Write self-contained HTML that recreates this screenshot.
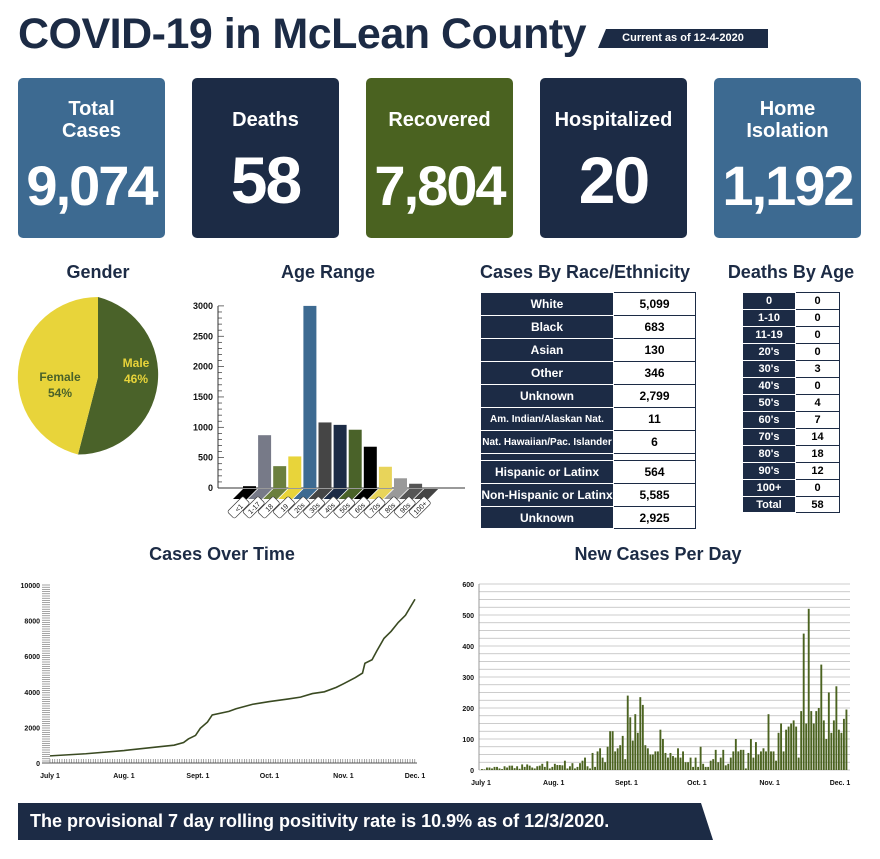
<!DOCTYPE html>
<html><head><meta charset="utf-8"><style>
body{margin:0;width:880px;height:859px;background:#fff;font-family:"Liberation Sans",sans-serif;position:relative;overflow:hidden}
.a{position:absolute}
.card{position:absolute;top:78px;width:147px;height:160px;border-radius:5px;color:#fff;text-align:center;font-weight:bold}
.card .l{position:absolute;left:0;right:0;font-size:20px;line-height:22px}
.card .n{position:absolute;left:0;right:0;top:78px;font-size:56px;letter-spacing:-2px;line-height:60px}
.h{position:absolute;font-weight:bold;font-size:18px;color:#1c2b45;text-align:center;white-space:nowrap}
table{border-collapse:collapse;position:absolute;font-size:12px;font-weight:bold}
td{border:1px solid #1c2b45;padding:0;text-align:center}
td.k{background:#1c2b45;color:#fff;border-color:#fff}
</style></head><body>
<div class="a" style="left:18px;top:10px;font-size:43px;font-weight:bold;color:#1c2b45;letter-spacing:-0.5px">COVID-19 in McLean County</div>
<div class="a" style="left:598px;top:29px;width:170px;height:19px;background:#1c2b45;clip-path:polygon(8px 0,100% 0,100% 100%,0 100%);color:#fff;font-size:11px;font-weight:bold;line-height:19px;text-align:center">Current as of 12-4-2020</div>

<div class="card" style="left:18px;background:#3d6a91"><div class="l" style="top:20px">Total<br>Cases</div><div class="n">9,074</div></div>
<div class="card" style="left:192px;background:#1c2b45"><div class="l" style="top:31px">Deaths</div><div class="n" style="font-size:66px;top:72px">58</div></div>
<div class="card" style="left:366px;background:#4a6220"><div class="l" style="top:31px">Recovered</div><div class="n">7,804</div></div>
<div class="card" style="left:540px;background:#1c2b45"><div class="l" style="top:31px">Hospitalized</div><div class="n" style="font-size:66px;top:72px">20</div></div>
<div class="card" style="left:714px;background:#3d6a91"><div class="l" style="top:20px">Home<br>Isolation</div><div class="n">1,192</div></div>

<div class="h" style="left:48px;width:100px;top:262px">Gender</div>
<div class="h" style="left:258px;width:140px;top:262px">Age Range</div>
<div class="h" style="left:475px;width:220px;top:262px">Cases By Race/Ethnicity</div>
<div class="h" style="left:716px;width:150px;top:262px">Deaths By Age</div>

<svg class="a" style="left:0;top:0" width="880" height="859">
<g transform="translate(98,377)">
<path d="M0,-80 A80,80 0 0 1 -20.0,77.5 L0,0Z" fill="#4a6229"/>
<path d="M-20.0,77.5 A80,80 0 0 1 0,-80 L0,0Z" fill="#e8d43a"/>
<text x="38" y="-10" fill="#e8d43a" font-size="12" font-weight="bold" text-anchor="middle">Male</text>
<text x="38" y="6" fill="#e8d43a" font-size="12" font-weight="bold" text-anchor="middle">46%</text>
<text x="-38" y="4" fill="#4a6229" font-size="12" font-weight="bold" text-anchor="middle">Female</text>
<text x="-38" y="20" fill="#4a6229" font-size="12" font-weight="bold" text-anchor="middle">54%</text>
</g>
<g id="age"></g>
<g id="cot"></g>
<g id="npd"></g>
</svg>

<table style="left:480px;top:292px;width:216px">
<tr style="height:23px"><td class="k" style="width:132px">White</td><td>5,099</td></tr>
<tr style="height:23px"><td class="k">Black</td><td>683</td></tr>
<tr style="height:23px"><td class="k">Asian</td><td>130</td></tr>
<tr style="height:23px"><td class="k">Other</td><td>346</td></tr>
<tr style="height:23px"><td class="k">Unknown</td><td>2,799</td></tr>
<tr style="height:23px"><td class="k" style="font-size:10px">Am. Indian/Alaskan Nat.</td><td>11</td></tr>
<tr style="height:23px"><td class="k" style="font-size:10px">Nat. Hawaiian/Pac. Islander</td><td>6</td></tr>
<tr style="height:7px"><td class="k"></td><td></td></tr>
<tr style="height:23px"><td class="k">Hispanic or Latinx</td><td>564</td></tr>
<tr style="height:23px"><td class="k">Non-Hispanic or Latinx</td><td>5,585</td></tr>
<tr style="height:22px"><td class="k">Unknown</td><td>2,925</td></tr>
</table>

<table style="left:742px;top:292px;width:98px;font-size:11px">
<tr style="height:17px"><td class="k" style="width:52px">0</td><td>0</td></tr>
<tr style="height:17px"><td class="k">1-10</td><td>0</td></tr>
<tr style="height:17px"><td class="k">11-19</td><td>0</td></tr>
<tr style="height:17px"><td class="k">20's</td><td>0</td></tr>
<tr style="height:17px"><td class="k">30's</td><td>3</td></tr>
<tr style="height:17px"><td class="k">40's</td><td>0</td></tr>
<tr style="height:17px"><td class="k">50's</td><td>4</td></tr>
<tr style="height:17px"><td class="k">60's</td><td>7</td></tr>
<tr style="height:17px"><td class="k">70's</td><td>14</td></tr>
<tr style="height:17px"><td class="k">80's</td><td>18</td></tr>
<tr style="height:17px"><td class="k">90's</td><td>12</td></tr>
<tr style="height:17px"><td class="k">100+</td><td>0</td></tr>
<tr style="height:16px"><td class="k">Total</td><td>58</td></tr>
</table>

<div class="h" style="left:122px;width:200px;top:544px">Cases Over Time</div>
<div class="h" style="left:548px;width:220px;top:544px">New Cases Per Day</div>

<div class="a" style="left:18px;top:803px;width:695px;height:37px;background:#1c2b45;clip-path:polygon(0 0,683px 0,100% 100%,0 100%);color:#fff;font-size:18px;font-weight:bold;line-height:37px;text-indent:12px">The provisional 7 day rolling positivity rate is 10.9% as of 12/3/2020.</div>

<script>
var NS="http://www.w3.org/2000/svg";
function el(p,t,a,tx){var e=document.createElementNS(NS,t);for(var k in a)e.setAttribute(k,a[k]);if(tx!=null)e.textContent=tx;p.appendChild(e);return e;}
var g=document.getElementById('age');var y0=488,s=0.0607;
el(g,'line',{x1:218,y1:306,x2:218,y2:y0,stroke:'#333','stroke-width':1});
el(g,'line',{x1:218,y1:y0,x2:465,y2:y0,stroke:'#333','stroke-width':1});
for(var v=0;v<=3000;v+=100){var yy=y0-v*s;el(g,'line',{x1:218,y1:yy,x2:v%500?222:224,y2:yy,stroke:'#333','stroke-width':0.7});}
for(var v=0;v<=3000;v+=500)el(g,'text',{x:213,y:y0-v*s+3,'font-size':9,'font-weight':'bold','text-anchor':'end',fill:'#111'},v);
var vals=[30,870,360,520,3000,1080,1040,960,680,350,160,70,0];
var cols=['#000','#777a88','#6b7f3e','#e8d43a','#3d6a91','#454545','#1c2b45','#4a6229','#000','#e8d45a','#999','#555','#444'];
var labs=['<1','1-17','18','19','20s','30s','40s','50s','60s','70s','80s','90s','100+'];
for(var i=0;i<13;i++){var x=243+i*15.1;var h=vals[i]*s;
el(g,'rect',{x:x,y:y0-h,width:13,height:h,fill:cols[i]});
// colored part of tab
el(g,'polygon',{points:(x)+','+(y0+1)+' '+(x+14)+','+(y0+1)+' '+(x+4)+','+(y0+11)+' '+(x-10)+','+(y0+11),fill:cols[i]});
// white label part
var tg=el(g,'g',{transform:'translate('+(x-3)+','+(y0+18)+') rotate(-45)'});
el(tg,'rect',{x:-13,y:-5,width:22,height:10,rx:2,fill:'#fff',stroke:'#333','stroke-width':0.7});
el(tg,'text',{x:-2,y:3,'font-size':7,'text-anchor':'middle',fill:'#111'},labs[i]);}
g=document.getElementById('cot');var X0=50,Y0=763,sx=365/153,sy=178/10000;
for(var yy=585;yy<=Y0;yy+=2.2)el(g,'line',{x1:42,y1:yy,x2:50,y2:yy,stroke:'#666','stroke-width':0.6});
for(var xx=50;xx<=417;xx+=2.4)el(g,'line',{x1:xx,y1:Y0-4,x2:xx,y2:Y0,stroke:'#666','stroke-width':0.6});
el(g,'line',{x1:42,y1:Y0,x2:417,y2:Y0,stroke:'#555','stroke-width':1});
for(var v=0;v<=10000;v+=2000)el(g,'text',{x:40,y:Y0-v*sy+3,'font-size':7,'font-weight':'bold','text-anchor':'end',fill:'#111'},v);
[['July 1',0],['Aug. 1',31],['Sept. 1',62],['Oct. 1',92],['Nov. 1',123],['Dec. 1',153]].forEach(function(d){el(g,'text',{x:X0+d[1]*sx,y:Y0+15,'font-size':7,'font-weight':'bold','text-anchor':'middle',fill:'#111'},d[0]);});
var pts=[[0,400],[15,520],[31,700],[45,900],[52,1000],[56,1150],[58,1350],[61,1550],[63,1950],[66,2300],[68,2700],[75,2900],[78,3050],[85,3300],[92,3450],[100,3600],[105,3700],[110,3900],[115,4000],[120,4250],[123,4450],[128,4800],[131,5050],[132,5600],[135,5800],[137,6300],[140,7000],[143,7400],[146,7900],[149,8300],[153,9200]];
el(g,'polyline',{points:pts.map(function(p){return (X0+p[0]*sx)+','+(Y0-p[1]*sy)}).join(' '),fill:'none',stroke:'#3a4a22','stroke-width':1.6});
g=document.getElementById('npd');X0=479;Y0=770;var sy2=186/600;
for(var v=0;v<=600;v+=25){var yy=Y0-v*sy2;el(g,'line',{x1:X0,y1:yy,x2:850,y2:yy,stroke:'#bbb','stroke-width':0.8});}
el(g,'line',{x1:X0,y1:584,x2:X0,y2:Y0,stroke:'#999','stroke-width':1});
for(var v=0;v<=600;v+=100)el(g,'text',{x:474,y:Y0-v*sy2+3,'font-size':7,'font-weight':'bold','text-anchor':'end',fill:'#111'},v);
var d=[3,2,8,8,5,10,10,5,3,12,8,14,14,6,12,4,18,10,18,14,8,5,12,14,20,10,28,5,10,20,16,
16,15,30,5,12,22,5,10,22,30,40,12,5,55,10,60,70,40,25,75,125,125,60,70,80,110,35,240,170,95,180,
120,235,210,80,70,50,50,60,60,130,100,55,40,55,45,40,70,40,60,25,25,40,10,40,10,75,20,10,10,30,
35,65,25,40,65,15,20,40,60,100,60,65,65,5,55,100,40,90,50,60,70,60,180,60,60,30,120,150,60,130,140,
150,160,140,40,190,440,150,520,190,150,190,200,340,160,100,250,120,160,270,130,120,165,195];
var bw=(848-481)/d.length;
for(var i=0;i<d.length;i++)el(g,'rect',{x:481+i*bw,y:Y0-d[i]*sy2,width:bw*0.75,height:d[i]*sy2,fill:'#4b6320'});
[['July 1',0],['Aug. 1',31],['Sept. 1',62],['Oct. 1',92],['Nov. 1',123],['Dec. 1',153]].forEach(function(q){el(g,'text',{x:481+q[1]*(359/153),y:Y0+15,'font-size':7,'font-weight':'bold','text-anchor':'middle',fill:'#111'},q[0]);});
</script>
</body></html>
